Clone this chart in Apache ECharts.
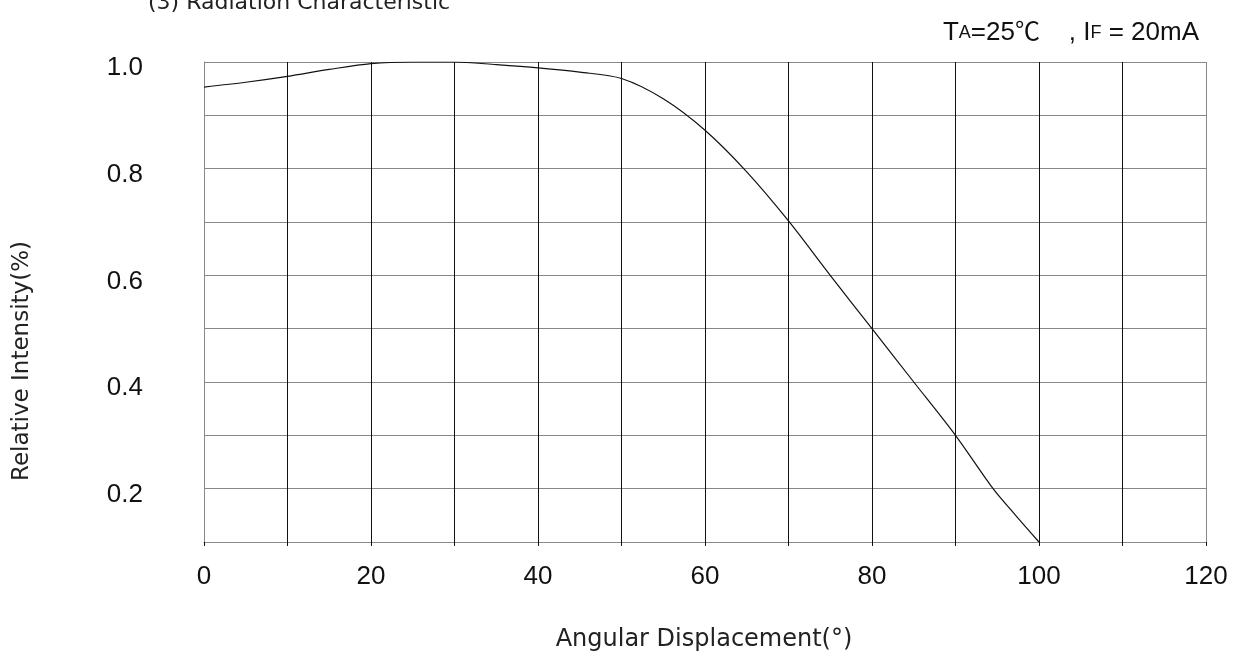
<!DOCTYPE html>
<html>
<head>
<meta charset="utf-8">
<script src="https://cdn.jsdelivr.net/npm/echarts@6/dist/echarts.min.js"></script>
<style>html,body{margin:0;padding:0;background:#fff;}#c{width:1237px;height:657px;}</style>
</head>
<body>
<div id="c"></div>
<script>
const angles = [0, 5, 10, 15, 20, 25, 30, 35, 40, 45, 50, 55, 60, 65, 70, 75, 80, 85, 90, 94.5, 97.2, 100];
const intensity = [0.953, 0.962, 0.973, 0.986, 0.997, 1.0, 1.0, 0.995, 0.989, 0.981, 0.969, 0.931, 0.872, 0.794, 0.702, 0.6, 0.5, 0.4, 0.3, 0.2, 0.15, 0.1];
const xTickLabels = ['0', '20', '40', '60', '80', '100', '120'];
const yTickLabels = ['1.0', '0.8', '0.6', '0.4', '0.2'];
const titleText = '(3) Radiation Characteristic';
const xName = 'Angular Displacement(°)';
const yName = 'Relative Intensity(%)';

const NUMFONT = "'Liberation Sans', Arial, sans-serif";
const TXTFONT = "'DejaVu Sans', 'Noto Sans CJK KR', sans-serif";
const chart = echarts.init(document.getElementById('c'), null, {renderer: 'canvas'});
const xSplitColors = [];
for (let i = 0; i <= 12; i++) xSplitColors.push(i === 0 || i === 12 ? '#888' : '#111');

chart.setOption({
  backgroundColor: '#fff',
  animation: false,
  grid: {left: 204, right: 31, top: 62, bottom: 115, show: false},
  graphic: [
    {type: 'text', x: 148, y: -8, style: {text: titleText, font: '22px ' + TXTFONT, fill: '#222'}},
    {type: 'text', x: 1199, y: 33, style: {
      align: 'right', verticalAlign: 'middle',
      rich: {
        b: {fontSize: 26, fontFamily: NUMFONT, fill: '#111'},
        c: {fontSize: 25, fontFamily: "'Noto Sans CJK KR', sans-serif", fill: '#111', padding: [0, 0, 5, 0]},
        s: {fontSize: 18, fontFamily: NUMFONT, fill: '#111'}
      },
      text: '{b|T}{s|A}{b|=25}{c|℃}{b|    , I}{s|F}{b| = 20mA}'
    }},
    {type: 'text', x: 22, y: 361, rotation: Math.PI / 2, style: {text: yName, font: '23px ' + TXTFONT, fill: '#222', align: 'center', verticalAlign: 'middle'}},
    {type: 'text', x: 704, y: 640, style: {text: xName, font: '24px ' + TXTFONT, fill: '#222', align: 'center', verticalAlign: 'middle'}}
  ],
  xAxis: {
    type: 'value', min: 0, max: 120, interval: 10,
    axisLine: {show: true, lineStyle: {color: '#888', width: 1}},
    axisTick: {show: true, length: 4, lineStyle: {color: '#111'}},
    axisLabel: {
      margin: 22, color: '#111', fontSize: 26, fontFamily: NUMFONT,
      formatter: v => xTickLabels.indexOf(String(Math.round(v))) >= 0 ? String(Math.round(v)) : ''
    },
    splitLine: {show: true, lineStyle: {color: xSplitColors, width: 1}}
  },
  yAxis: {
    type: 'value', min: 0.1, max: 1.0, interval: 0.1,
    axisLine: {show: true, lineStyle: {color: '#888', width: 1}},
    axisTick: {show: false},
    axisLabel: {
      margin: 61, color: '#111', fontSize: 26, fontFamily: NUMFONT,
      verticalAlign: 'top', lineHeight: 12,
      formatter: v => { const s = v.toFixed(1); return yTickLabels.indexOf(s) >= 0 ? s : ''; }
    },
    splitLine: {show: true, lineStyle: {color: '#888', width: 1}}
  },
  series: [{
    type: 'line', smooth: 0.3, symbol: 'none',
    data: angles.map((a, i) => [a, intensity[i]]),
    lineStyle: {color: '#111', width: 1.2},
    z: 5
  }]
});
</script>
</body>
</html>
